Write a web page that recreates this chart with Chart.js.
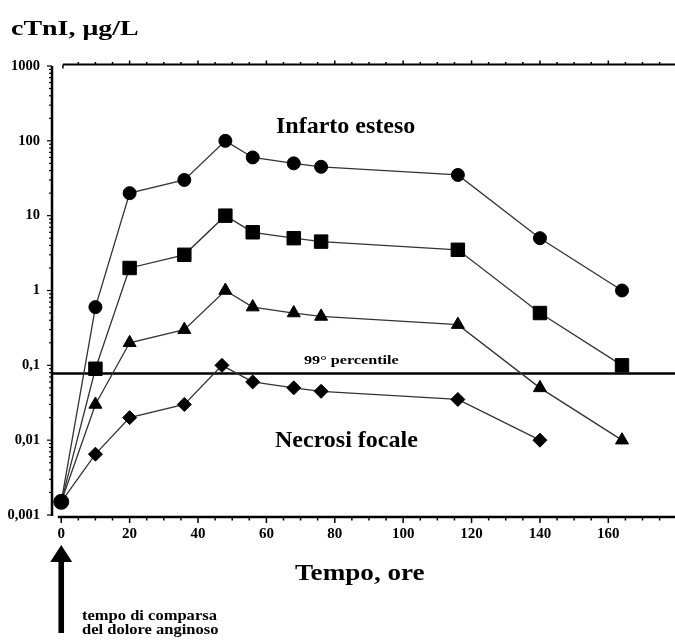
<!DOCTYPE html>
<html>
<head>
<meta charset="utf-8">
<script src="https://cdn.jsdelivr.net/npm/chart.js@4/dist/chart.umd.min.js"></script>
<style>
body{margin:0;background:#fff;}
canvas{display:block;}
</style>
</head>
<body>
<canvas id="chartTnI" width="675" height="640"></canvas>
<script>
// ore dall'inizio del dolore
const hours=[0,10,20,36,48,56,68,76,116,140,164];
const hoursFocal=[0,10,20,36,47,56,68,76,116,140];

// cTnI, ug/L
const circles=[0.0015,0.6,20,30,100,60,50,45,35,5,1];
const squares=[0.0015,0.09,2,3,10,6,5,4.5,3.5,0.5,0.1];
const triangles=[0.0015,0.03,0.2,0.3,1,0.6,0.5,0.45,0.35,0.05,0.01];
const diamonds=[0.0015,0.0065,0.02,0.03,0.1,0.06,0.05,0.045,0.035,0.01];

const percentile99=0.078;
const xTicks=[0,20,40,60,80,100,120,140,160];
const yTicks=[0.001,0.01,0.1,1,10,100,1000];

const SERIF="'Liberation Serif','Times New Roman',serif";
Chart.defaults.font.family=SERIF;
Chart.defaults.color="#000";

function pts(xs,ys){
return ys.map((v,i)=>({x:xs[i],y:v}));
}

function series(xs,ys,style,r,firstR){
return {
data:pts(xs,ys),
borderColor:"#333",
borderWidth:1.3,
pointStyle:style,
pointRadius:ys.map((v,i)=> i===0 ? firstR : r),
pointBackgroundColor:"#000",
pointBorderColor:"#000",
pointBorderWidth:1,
tension:0,
clip:false
};
}

function text(ctx,str,x,y,size,stretch){
ctx.save();
ctx.font="bold "+size+"px "+SERIF;
ctx.fillStyle="#000";
ctx.textBaseline="alphabetic";
ctx.textAlign="left";
ctx.translate(x,y);
ctx.scale(stretch,1);
ctx.fillText(str,0,0);
ctx.restore();
}

const frame={
id:"frame",
afterDraw(chart){
const ctx=chart.ctx;
const xs=chart.scales.x, ys=chart.scales.y;
ctx.save();
ctx.strokeStyle="#000";
ctx.lineCap="butt";

// asse y
ctx.lineWidth=2.5;
ctx.beginPath();
ctx.moveTo(xs.left,ys.top);
ctx.lineTo(xs.left,ys.bottom+1);
ctx.stroke();
ctx.lineWidth=1.2;
for(let e=-3;e<=3;e++){
for(let m=1;m<=9;m++){
if(e===3 && m>1) break;
let py=ys.getPixelForValue(m*Math.pow(10,e));
let len= m===1 ? 5 : 3;
ctx.beginPath();
ctx.moveTo(xs.left,py);
ctx.lineTo(xs.left-len,py);
ctx.stroke();
}
}

// asse x in basso
let yb=ys.bottom+2;
ctx.lineWidth=2.5;
ctx.beginPath();
ctx.moveTo(xs.getPixelForValue(-1),yb);
ctx.lineTo(chart.width,yb);
ctx.stroke();
ctx.lineWidth=1.5;
for(let v=0;v<=175;v+=5){
let px=xs.getPixelForValue(v);
let len= v%20===0 ? 6 : 3.5;
ctx.beginPath();
ctx.moveTo(px,yb);
ctx.lineTo(px,yb+len);
ctx.stroke();
}

// asse x in alto
let yt=ys.top-1.5;
ctx.lineWidth=2.2;
ctx.beginPath();
ctx.moveTo(xs.getPixelForValue(0.5),yt);
ctx.lineTo(chart.width,yt);
ctx.stroke();
ctx.lineWidth=1.5;
ctx.beginPath();
ctx.moveTo(xs.getPixelForValue(0.5),yt);
ctx.lineTo(xs.getPixelForValue(0.5),yt+4);
ctx.stroke();
for(let v=5;v<=175;v+=5){
let px=xs.getPixelForValue(v);
let len= v%20===0 ? 4 : 2.5;
ctx.beginPath();
ctx.moveTo(px,yt);
ctx.lineTo(px,yt-len);
ctx.stroke();
}

// freccia
let ax=xs.getPixelForValue(0);
ctx.fillStyle="#000";
ctx.beginPath();
ctx.moveTo(ax,545);
ctx.lineTo(ax+11,562);
ctx.lineTo(ax-11,562);
ctx.closePath();
ctx.fill();
ctx.fillRect(ax-2.8,560,5.6,73);
ctx.restore();

// testi
text(ctx,"cTnI, \u03bcg/L",11,35,22,1.27);
text(ctx,"Infarto esteso",276,133,24,1);
text(ctx,"Necrosi focale",275,447,24,1);
text(ctx,"99\u00b0 percentile",304,364,13.5,1.2);
text(ctx,"Tempo, ore",295,580,23,1.18);
text(ctx,"tempo di comparsa",82,620,14,1.18);
text(ctx,"del dolore anginoso",82,634,14,1.18);
}
};

new Chart(document.getElementById("chartTnI"),{
type:"line",
data:{
datasets:[
series(hours,circles,"circle",6.5,7.5),
series(hours,squares,"rect",9.5,0),
series(hours,triangles,"triangle",7.5,0),
series(hoursFocal,diamonds,"rectRot",7,0),
{
data:[{x:-2.7,y:percentile99},{x:179.5,y:percentile99}],
borderColor:"#000",
borderWidth:2.5,
pointRadius:0,
clip:false
}
]
},
options:{
responsive:false,
animation:false,
layout:{autoPadding:false,padding:{top:66,bottom:95,left:0,right:0}},
plugins:{legend:{display:false},tooltip:{enabled:false}},
scales:{
x:{
type:"linear",
min:-2.7,
max:179.5,
grid:{display:false,drawTicks:false},
border:{display:false},
afterBuildTicks:s=>{s.ticks=xTicks.map(v=>({value:v}));},
afterFit:s=>{s.height=30;},
ticks:{padding:10,maxRotation:0,font:{size:15,weight:"bold"}}
},
y:{
type:"logarithmic",
min:0.001,
max:1000,
grid:{display:false,drawTicks:false},
border:{display:false},
afterBuildTicks:s=>{s.ticks=yTicks.map(v=>({value:v}));},
afterFit:s=>{s.width=52;},
ticks:{
padding:12,
font:{size:14.5,weight:"bold"},
callback:v=>String(v).replace(".",",")
}
}
}
},
plugins:[frame]
});
</script>
</body>
</html>
